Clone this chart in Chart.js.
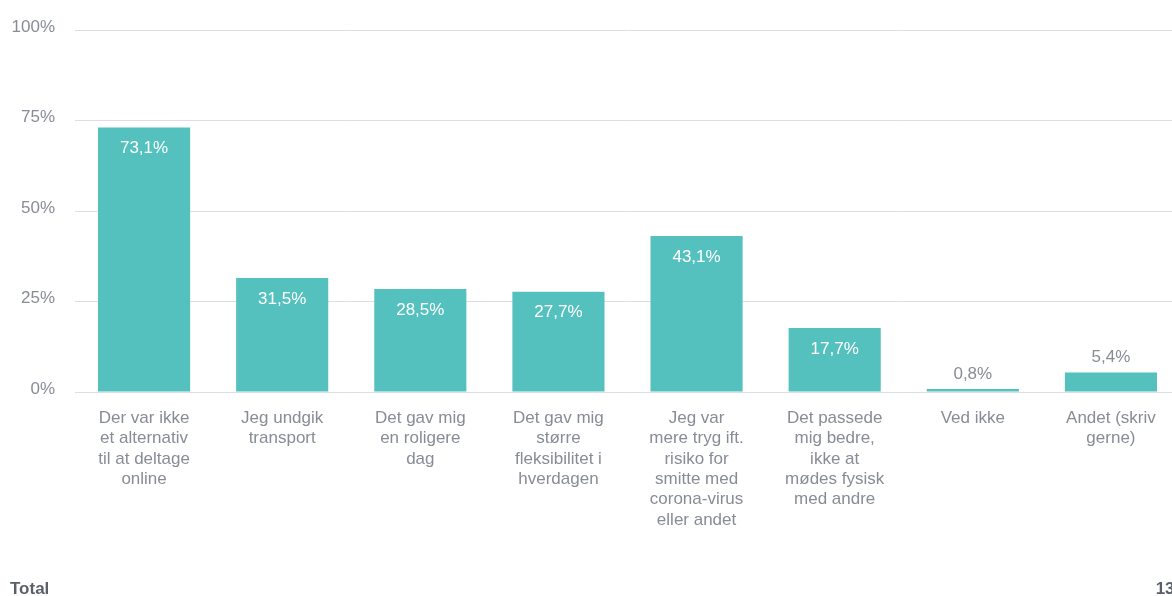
<!DOCTYPE html>
<html><head><meta charset="utf-8">
<script src="https://cdn.jsdelivr.net/npm/chart.js@4"></script>
<style>
html,body{margin:0;padding:0;background:#fff;overflow:hidden;width:1172px;height:596px;}
#wrap{position:absolute;left:0;top:0;width:1180px;height:596px;}
#total{position:absolute;left:10px;top:579px;font:bold 17px "Liberation Sans",Arial,sans-serif;color:#5a5f69;}
#n{position:absolute;right:-4px;top:579px;font:bold 17px "Liberation Sans",Arial,sans-serif;color:#5a5f69;}
</style></head><body>
<div id="wrap"><canvas id="c" width="1180" height="596"></canvas>
<div id="total">Total</div><div id="n">130</div></div>
<script>
const categories = [
  ["Der var ikke","et alternativ","til at deltage","online"],
  ["Jeg undgik","transport"],
  ["Det gav mig","en roligere","dag"],
  ["Det gav mig","større","fleksibilitet i","hverdagen"],
  ["Jeg var","mere tryg ift.","risiko for","smitte med","corona-virus","eller andet"],
  ["Det passede","mig bedre,","ikke at","mødes fysisk","med andre"],
  ["Ved ikke"],
  ["Andet (skriv","gerne)"]
];
const values = [73.1, 31.5, 28.5, 27.7, 43.1, 17.7, 0.8, 5.4];
const yTicks = [0, 25, 50, 75, 100];
const textColor = '#878c96';
const barColor = '#55c1bf';
const fontFam = '"Liberation Sans", Arial, sans-serif';

const labelPlugin = {
  id: 'vlabels',
  afterDatasetsDraw(chart) {
    const ctx = chart.ctx;
    const meta = chart.getDatasetMeta(0);
    ctx.save();
    ctx.font = '17px ' + fontFam;
    ctx.textAlign = 'center';
    ctx.textBaseline = 'middle';
    meta.data.forEach((bar, i) => {
      const v = values[i];
      const txt = v.toFixed(1).replace('.', ',') + '%';
      if (v >= 10) {
        ctx.fillStyle = '#ffffff';
        ctx.fillText(txt, bar.x, bar.y + 21);
      } else {
        ctx.fillStyle = textColor;
        ctx.fillText(txt, bar.x, bar.y - 15);
      }
    });
    ctx.restore();
  }
};

new Chart(document.getElementById('c'), {
  type: 'bar',
  data: {
    labels: categories,
    datasets: [{ data: values, backgroundColor: barColor, barPercentage: 0.667, categoryPercentage: 1 }]
  },
  options: {
    responsive: false,
    animation: false,
    layout: { padding: { top: 24, left: 0, right: 0, bottom: 0 } },
    plugins: { legend: { display: false }, tooltip: { enabled: false } },
    scales: {
      x: {
        afterFit(s) { s.height = 204; },
        grid: { display: false, drawTicks: false },
        border: { display: false },
        ticks: { color: textColor, font: { family: fontFam, size: 17, lineHeight: 1.2 }, padding: 16, maxRotation: 0, autoSkip: false }
      },
      y: {
        min: 0, max: 100,
        afterFit(s) { s.width = 75; },
        afterBuildTicks(s) { s.ticks = yTicks.map(v => ({ value: v })); },
        grid: { color: '#dcdee2', drawTicks: false, lineWidth: 1 },
        border: { display: false },
        ticks: { color: textColor, font: { family: fontFam, size: 17 }, padding: 20, labelOffset: -3, callback: v => v + '%' }
      }
    }
  },
  plugins: [labelPlugin]
});
</script>
</body></html>
